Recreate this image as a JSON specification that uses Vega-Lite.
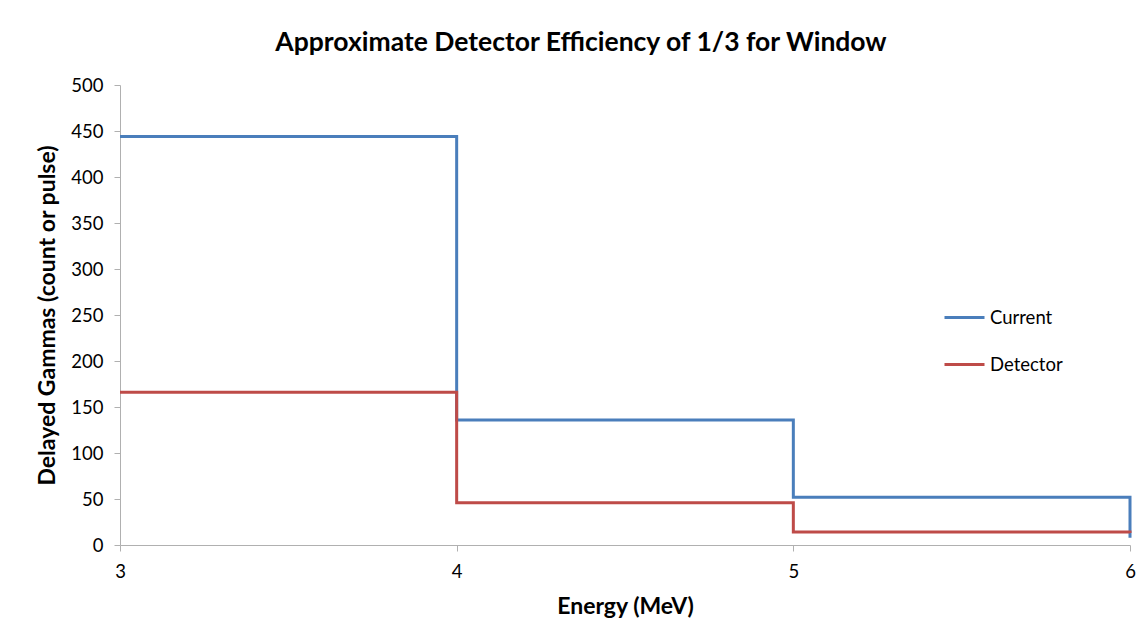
{
  "$schema": "https://vega.github.io/schema/vega-lite/v6.json",
  "autosize": {"type": "none"},
  "width": 1010,
  "height": 460,
  "padding": {"left": 120, "top": 85, "right": 18, "bottom": 97},
  "background": "white",
  "title": {
    "text": "Approximate Detector Efficiency of 1/3 for Window",
    "font": "Lato",
    "fontSize": 26.5,
    "fontWeight": "bold",
    "color": "#000000",
    "anchor": "middle",
    "dx": -44,
    "offset": 20
  },
  "data": {
    "values": [
      {"energy": 3, "gammas": 444, "series": "Current"},
      {"energy": 4, "gammas": 136, "series": "Current"},
      {"energy": 5, "gammas": 52, "series": "Current"},
      {"energy": 6, "gammas": 8, "series": "Current"},
      {"energy": 3, "gammas": 166, "series": "Detector"},
      {"energy": 4, "gammas": 46, "series": "Detector"},
      {"energy": 5, "gammas": 14, "series": "Detector"},
      {"energy": 6, "gammas": 13, "series": "Detector"}
    ]
  },
  "mark": {"type": "line", "interpolate": "step-after", "strokeWidth": 3, "clip": false},
  "encoding": {
    "x": {
      "field": "energy",
      "type": "quantitative",
      "scale": {"domain": [3, 6], "nice": false, "zero": false},
      "axis": {
        "title": "Energy (MeV)",
        "values": [3, 4, 5, 6],
        "format": "d",
        "grid": false,
        "labelFlush": false,
        "domainColor": "#b0b0b0",
        "tickColor": "#b0b0b0",
        "tickSize": 6,
        "labelFont": "Lato",
        "labelFontSize": 18.5,
        "labelColor": "#000000",
        "labelPadding": 11,
        "titleFont": "Lato",
        "titleFontSize": 23,
        "titleFontWeight": "bold",
        "titleColor": "#000000",
        "titlePadding": 15
      }
    },
    "y": {
      "field": "gammas",
      "type": "quantitative",
      "scale": {"domain": [0, 500], "nice": false},
      "axis": {
        "title": "Delayed Gammas (count or pulse)",
        "values": [0, 50, 100, 150, 200, 250, 300, 350, 400, 450, 500],
        "grid": false,
        "domainColor": "#b0b0b0",
        "tickColor": "#b0b0b0",
        "tickSize": 6,
        "labelFont": "Lato",
        "labelFontSize": 18.5,
        "labelColor": "#000000",
        "labelPadding": 11,
        "titleFont": "Lato",
        "titleFontSize": 23,
        "titleFontWeight": "bold",
        "titleColor": "#000000",
        "titlePadding": 11
      }
    },
    "color": {
      "field": "series",
      "type": "nominal",
      "scale": {"domain": ["Current", "Detector"], "range": ["#4A7EBB", "#BE4B48"]},
      "legend": {
        "title": null,
        "orient": "none",
        "legendX": 823,
        "legendY": 211,
        "symbolType": "stroke",
        "symbolSize": 1600,
        "symbolStrokeWidth": 3,
        "labelFont": "Lato",
        "labelFontSize": 18.5,
        "labelColor": "#000000",
        "labelOffset": 4,
        "rowPadding": 16
      }
    }
  },
  "config": {"view": {"stroke": null}}
}
